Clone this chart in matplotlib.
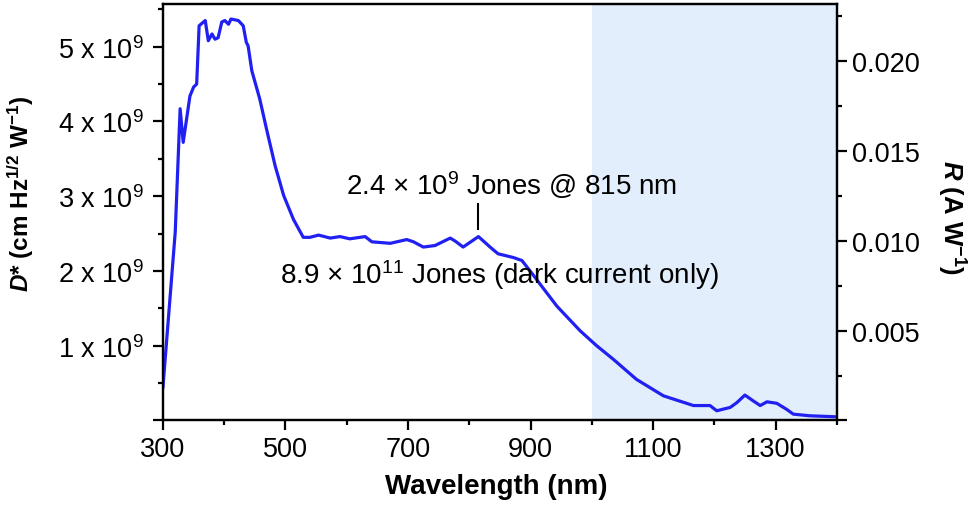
import numpy as np
import matplotlib
matplotlib.use('Agg')
import matplotlib.pyplot as plt
from matplotlib.ticker import FixedLocator, FixedFormatter, MultipleLocator

plt.rcParams['font.family'] = ['Liberation Sans', 'DejaVu Sans']
plt.rcParams['mathtext.fontset'] = 'custom'
plt.rcParams['mathtext.rm'] = 'Liberation Sans'
plt.rcParams['mathtext.it'] = 'Liberation Sans:italic:bold'
plt.rcParams['mathtext.bf'] = 'Liberation Sans:bold'

# data
wavelength = [300, 320, 328, 333, 344, 350, 355, 359, 369, 374, 380, 385, 390, 396,
              401, 407, 411, 423, 431, 436, 439, 445, 458, 469, 483, 497, 513, 529,
              540, 554, 573, 589, 605, 630, 641, 671, 698, 709, 725, 744, 769, 777,
              790, 815, 834, 847, 872, 886, 905, 916, 943, 981, 1008, 1035, 1073,
              1117, 1166, 1193, 1204, 1226, 1237, 1250, 1264, 1275, 1286, 1302, 1318,
              1329, 1356, 1397, 1400]
dstar = [0.45, 2.52, 4.17, 3.72, 4.34, 4.46, 4.50, 5.28, 5.35, 5.08, 5.17, 5.10, 5.12, 5.33,
         5.35, 5.30, 5.37, 5.35, 5.28, 5.06, 5.01, 4.68, 4.30, 3.90, 3.41, 3.01, 2.69, 2.45,
         2.45, 2.48, 2.44, 2.46, 2.43, 2.46, 2.39, 2.37, 2.42, 2.39, 2.32, 2.34, 2.44, 2.40,
         2.32, 2.46, 2.32, 2.23, 2.18, 2.14, 1.94, 1.82, 1.53, 1.20, 1.00, 0.82, 0.55,
         0.33, 0.20, 0.20, 0.13, 0.175, 0.24, 0.34, 0.26, 0.20, 0.25, 0.23, 0.15,
         0.085, 0.063, 0.05, 0.05]  # x 1e9 Jones

x_ticks = [300, 500, 700, 900, 1100, 1300]
d_ticks = [0, 1e9, 2e9, 3e9, 4e9, 5e9]
d_labels = ['', '1 x 10$^9$', '2 x 10$^9$', '3 x 10$^9$', '4 x 10$^9$', '5 x 10$^9$']
r_ticks = [0, 0.005, 0.010, 0.015, 0.020]
r_labels = ['', '0.005', '0.010', '0.015', '0.020']

peak_wl = 815
nir_start, nir_end = 1000, 1400

fig = plt.figure(figsize=(9.73, 5.06), dpi=100)
ax = fig.add_axes([0.1675, 0.167, 0.6925, 0.824])
ax2 = ax.twinx()

ax.axvspan(nir_start, nir_end, color='#E2EEFB', lw=0, zorder=0)
ax.plot(wavelength, np.array(dstar) * 1e9, color='#2020F2', lw=2.3, zorder=3)

ax.set_xlim(300, 1400)
ax.set_ylim(0, 5.577e9)
ax2.set_ylim(0, 0.02322)

ax.xaxis.set_major_locator(FixedLocator(x_ticks))
ax.xaxis.set_minor_locator(MultipleLocator(100))
ax.yaxis.set_major_locator(FixedLocator(d_ticks))
ax.yaxis.set_major_formatter(FixedFormatter(d_labels))
ax.yaxis.set_minor_locator(MultipleLocator(0.5e9))
ax2.yaxis.set_major_locator(FixedLocator(r_ticks))
ax2.yaxis.set_major_formatter(FixedFormatter(r_labels))
ax2.yaxis.set_minor_locator(MultipleLocator(0.0025))

for a in (ax, ax2):
    for s in a.spines.values():
        s.set_linewidth(1.6)
    a.tick_params(which='major', length=7, width=1.6, labelsize=19.5, pad=4)
    a.tick_params(which='minor', length=3.5, width=1.6)
ax.tick_params(axis='y', which='major', pad=7)

# annotations
ax.plot([peak_wl, peak_wl], [2.56e9, 2.9e9], color='black', lw=1.5)
ax.text(869, 3.16e9, '2.4 × 10$^9$ Jones @ 815 nm', fontsize=20,
        ha='center', va='center')
ax.text(849, 1.96e9, '8.9 × 10$^{11}$ Jones (dark current only)', fontsize=20,
        ha='center', va='center')

fig.text(0.0216, 0.617, r'$D$* (cm Hz$^{\mathbf{1/2}}$ W$^{\mathbf{-1}}$)',
         fontsize=17.5, fontweight='bold', rotation=90, ha='center', va='center')
fig.text(0.978, 0.571, r'$R$ (A W$^{\mathbf{-1}}$)',
         fontsize=18.5, fontweight='bold', rotation=270, ha='center', va='center')
fig.text(0.5105, 0.0375, 'Wavelength (nm)', fontsize=20, fontweight='bold',
         ha='center', va='center')

fig.savefig('out.png', dpi=100)
